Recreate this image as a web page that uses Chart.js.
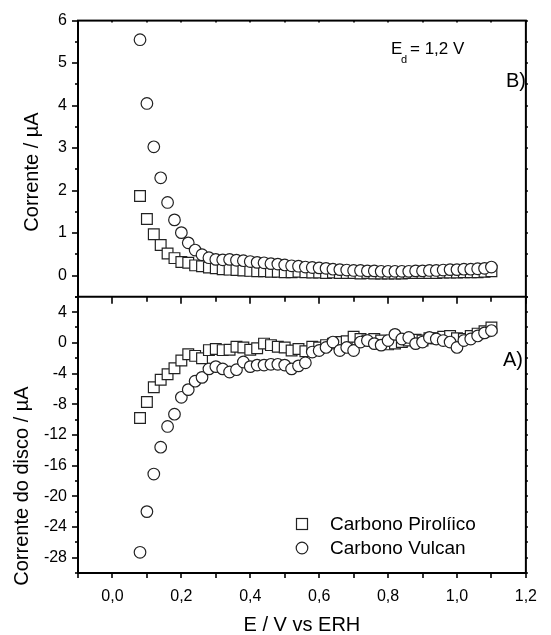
<!DOCTYPE html>
<html>
<head>
<meta charset="utf-8">
<script src="https://cdn.jsdelivr.net/npm/chart.js@4.4.0/dist/chart.umd.min.js"></script>
<style>
  html, body { margin: 0; padding: 0; background: #fff; }
  #wrap { width: 551px; height: 635px; }
</style>
</head>
<body>
<div id="wrap"><canvas id="disco" width="551" height="635"></canvas></div>
<script>
// E / V vs ERH, one point every 20 mV
const potentials = [0.08, 0.10, 0.12, 0.14, 0.16, 0.18, 0.20, 0.22, 0.24, 0.26, 0.28, 0.30, 0.32,
  0.34, 0.36, 0.38, 0.40, 0.42, 0.44, 0.46, 0.48, 0.50, 0.52, 0.54, 0.56, 0.58, 0.60, 0.62, 0.64,
  0.66, 0.68, 0.70, 0.72, 0.74, 0.76, 0.78, 0.80, 0.82, 0.84, 0.86, 0.88, 0.90, 0.92, 0.94, 0.96,
  0.98, 1.00, 1.02, 1.04, 1.06, 1.08, 1.10]

// B) corrente / uA
const anelPirolitico = [1.87, 1.33, 0.97, 0.72, 0.52, 0.41, 0.32, 0.30, 0.24, 0.22, 0.19, 0.17, 0.15,
  0.14, 0.13, 0.12, 0.11, 0.10, 0.10, 0.09, 0.09, 0.08, 0.08, 0.09, 0.08, 0.07, 0.07, 0.06, 0.07,
  0.06, 0.06, 0.06, 0.05, 0.06, 0.05, 0.05, 0.05, 0.05, 0.05, 0.06, 0.06, 0.06, 0.06, 0.06, 0.07,
  0.07, 0.07, 0.08, 0.08, 0.08, 0.09, 0.10]
const anelVulcan = [5.55, 4.05, 3.03, 2.30, 1.72, 1.31, 1.01, 0.77, 0.60, 0.49, 0.42, 0.38, 0.37,
  0.38, 0.36, 0.35, 0.33, 0.31, 0.30, 0.28, 0.27, 0.25, 0.23, 0.22, 0.20, 0.19, 0.18, 0.17, 0.15,
  0.14, 0.13, 0.12, 0.12, 0.11, 0.11, 0.10, 0.10, 0.10, 0.10, 0.10, 0.11, 0.11, 0.12, 0.12, 0.13,
  0.14, 0.14, 0.15, 0.15, 0.16, 0.17, 0.20]

// A) corrente do disco / uA
const discoPirolitico = [-9.8, -7.7, -5.8, -4.8, -4.1, -3.3, -2.3, -1.5, -1.7, -2.0, -0.95, -0.8, -0.95,
  -0.9, -0.5, -0.6, -0.9, -0.7, -0.1, -0.3, -0.5, -0.6, -1.0, -0.8, -1.1, -0.5, -0.6, -0.3, -0.1,
  0.1, 0.2, 0.8, 0.5, 0.3, 0.5, 0.3, -0.2, -0.1, 0.1, 0.3, 0.4, 0.3, 0.6, 0.6, 0.8,
  0.9, 0.6, 0.5, 0.9, 1.2, 1.5, 2.0]
const discoVulcan = [-27.3, -22.0, -17.1, -13.6, -10.9, -9.3, -7.1, -6.1, -5.0, -4.5, -3.4, -3.1, -3.4,
  -3.8, -3.5, -2.5, -3.1, -2.9, -2.9, -2.8, -2.8, -2.9, -3.4, -3.0, -2.6, -1.2, -1.0, -0.6, 0.1,
  -1.0, -0.6, -1.0, 0.1, 0.3, -0.1, -0.3, 0.3, 1.1, 0.5, 0.7, -0.1, 0.1, 0.7, 0.5, 0.3,
  0.1, -0.6, 0.3, 0.5, 0.9, 1.3, 1.6]

// tick labels and tick marks
const xLabelTicks = [0.0, 0.2, 0.4, 0.6, 0.8, 1.0, 1.2]
const xMarkTicks = [-0.1, 0.0, 0.1, 0.2, 0.3, 0.4, 0.5, 0.6, 0.7, 0.8, 0.9, 1.0, 1.1, 1.2]
const yBLabelTicks = [0, 1, 2, 3, 4, 5, 6]
const yBMinorTicks = [-0.5, 0.5, 1.5, 2.5, 3.5, 4.5, 5.5]
const yALabelTicks = [-28, -24, -20, -16, -12, -8, -4, 0, 4]
const yAMinorTicks = [-30, -26, -22, -18, -14, -10, -6, -2, 2, 6]

const seriesNames = ['Carbono Pirolíico', 'Carbono Vulcan']

const ink = '#222'
const textFont = '"Liberation Sans", Arial, sans-serif'
const tickFont = { family: textFont, size: 16 }

const pairs = (ys) => potentials.map((x, i) => ({ x: x, y: ys[i] }))

function markerSet(label, data, axis, style) {
  const square = style === 'rect'
  return {
    label: label,
    data: data,
    yAxisID: axis,
    showLine: false,
    pointStyle: style,
    pointRadius: square ? 7.6 : 5.8,
    pointHoverRadius: square ? 7.6 : 5.8,
    pointBorderWidth: 1.2,
    pointBackgroundColor: '#fff',
    pointBorderColor: ink,
    order: square ? 1 : 0
  }
}

const panelDecor = {
  id: 'panelDecor',
  afterDraw(chart) {
    const ctx = chart.ctx
    const area = chart.chartArea
    const x = chart.scales.x
    const yA = chart.scales.yA
    const yB = chart.scales.yB

    ctx.save()
    ctx.strokeStyle = '#000'
    ctx.lineWidth = 2
    ctx.strokeRect(area.left, yB.top, area.right - area.left, yA.bottom - yB.top)
    ctx.beginPath()
    ctx.moveTo(area.left, yA.top)
    ctx.lineTo(area.right, yA.top)
    ctx.stroke()

    // tick marks
    ctx.lineWidth = 1.6
    const tick = (x1, y1, x2, y2) => {
      ctx.beginPath()
      ctx.moveTo(x1, y1)
      ctx.lineTo(x2, y2)
      ctx.stroke()
    }
    xMarkTicks.forEach(v => {
      const px = Math.round(x.getPixelForValue(v))
      const major = xLabelTicks.some(t => Math.abs(t - v) < 1e-9)
      tick(px, yA.bottom, px, yA.bottom + 5)
      tick(px, yA.top, px, yA.top + (major ? 7 : 5))
      tick(px, yB.top, px, yB.top + 2)
    })
    yBLabelTicks.forEach(v => {
      const py = Math.round(yB.getPixelForValue(v))
      tick(area.left, py, area.left - 6, py)
      tick(area.right, py, area.right + 2, py)
    })
    yBMinorTicks.forEach(v => {
      const py = Math.round(yB.getPixelForValue(v))
      tick(area.left, py, area.left - 3, py)
      tick(area.right, py, area.right + 2, py)
    })
    yALabelTicks.forEach(v => {
      const py = Math.round(yA.getPixelForValue(v))
      tick(area.left, py, area.left - 6, py)
      tick(area.right, py, area.right + 2, py)
    })
    yAMinorTicks.forEach(v => {
      const py = Math.round(yA.getPixelForValue(v))
      tick(area.left, py, area.left - 3, py)
      tick(area.right, py, area.right + 2, py)
    })

    // axis titles
    ctx.fillStyle = '#000'
    ctx.textBaseline = 'middle'
    ctx.textAlign = 'center'
    ctx.font = '20px ' + textFont
    ctx.save()
    ctx.translate(32, 172)
    ctx.rotate(-Math.PI / 2)
    ctx.fillText('Corrente / µA', 0, 0)
    ctx.restore()
    ctx.save()
    ctx.translate(22, 486)
    ctx.rotate(-Math.PI / 2)
    ctx.fillText('Corrente do disco / µA', 0, 0)
    ctx.restore()
    ctx.fillText('E / V vs ERH', (area.left + area.right) / 2, 625)

    // panel notes
    ctx.textAlign = 'left'
    ctx.font = '20px ' + textFont
    ctx.fillText('B)', 506, 81)
    ctx.fillText('A)', 503, 360)
    ctx.font = '17px ' + textFont
    ctx.fillText('E', 391, 49)
    ctx.font = '11px ' + textFont
    ctx.fillText('d', 401, 60)
    ctx.font = '17px ' + textFont
    ctx.fillText('= 1,2 V', 410, 49)

    // legend
    ctx.font = '19px ' + textFont
    ctx.lineWidth = 1.2
    ctx.strokeStyle = ink
    ctx.fillStyle = '#fff'
    ctx.fillRect(296.5, 518.5, 11, 11)
    ctx.strokeRect(296.5, 518.5, 11, 11)
    ctx.beginPath()
    ctx.arc(302, 548, 5.8, 0, Math.PI * 2)
    ctx.fill()
    ctx.stroke()
    ctx.fillStyle = '#000'
    ctx.fillText(seriesNames[0], 330, 525)
    ctx.fillText(seriesNames[1], 330, 549)
    ctx.restore()
  }
}

new Chart(document.getElementById('disco'), {
  type: 'scatter',
  data: {
    datasets: [
      markerSet(seriesNames[0], pairs(anelPirolitico), 'yB', 'rect'),
      markerSet(seriesNames[1], pairs(anelVulcan), 'yB', 'circle'),
      markerSet(seriesNames[0], pairs(discoPirolitico), 'yA', 'rect'),
      markerSet(seriesNames[1], pairs(discoVulcan), 'yA', 'circle')
    ]
  },
  options: {
    responsive: false,
    animation: false,
    layout: { padding: { top: 17, right: 12, left: 0, bottom: 0 } },
    plugins: {
      legend: { display: false },
      tooltip: { enabled: false }
    },
    scales: {
      x: {
        type: 'linear',
        min: -0.1,
        max: 1.2,
        grid: { display: false, drawTicks: false },
        border: { display: false },
        afterBuildTicks(scale) { scale.ticks = xLabelTicks.map(v => ({ value: v })) },
        afterFit(scale) { scale.height = 62 },
        ticks: {
          color: '#000',
          font: tickFont,
          padding: 14,
          maxRotation: 0,
          autoSkip: false,
          callback: v => v.toFixed(1).replace('.', ',')
        }
      },
      yA: {
        type: 'linear',
        position: 'left',
        stack: 'paineis',
        stackWeight: 1,
        min: -30,
        max: 6,
        grid: { display: false, drawTicks: false },
        border: { display: false },
        afterBuildTicks(scale) { scale.ticks = yALabelTicks.map(v => ({ value: v })) },
        afterFit(scale) { scale.width = 78 },
        ticks: { color: '#000', font: tickFont, padding: 11, autoSkip: false, callback: v => String(v) }
      },
      yB: {
        type: 'linear',
        position: 'left',
        stack: 'paineis',
        stackWeight: 1,
        min: -0.5,
        max: 6,
        grid: { display: false, drawTicks: false },
        border: { display: false },
        afterBuildTicks(scale) { scale.ticks = yBLabelTicks.map(v => ({ value: v })) },
        afterFit(scale) { scale.width = 78 },
        ticks: { color: '#000', font: tickFont, padding: 11, autoSkip: false, callback: v => String(v) }
      }
    }
  },
  plugins: [panelDecor]
})
</script>
</body>
</html>
